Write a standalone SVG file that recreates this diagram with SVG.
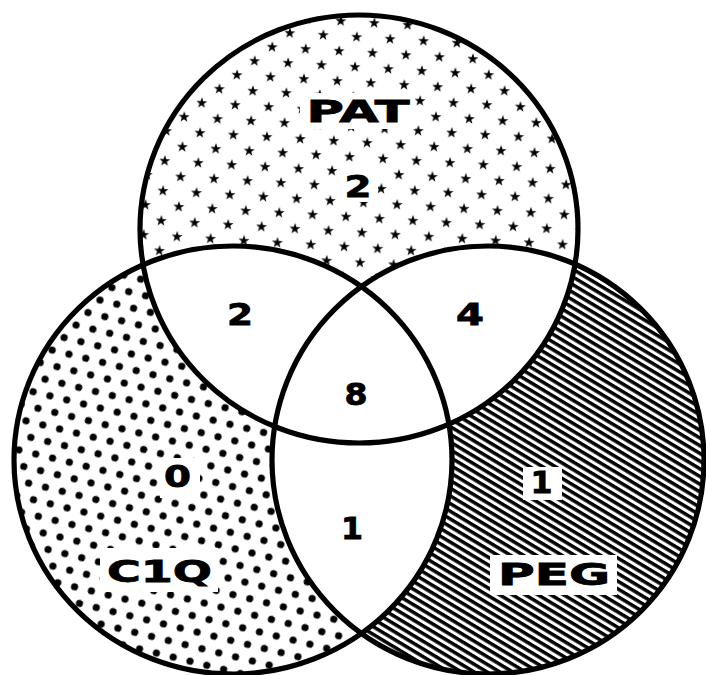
<svg xmlns="http://www.w3.org/2000/svg" width="706" height="675" viewBox="0 0 706 675">
<style>
.outline{fill:none;stroke:#000;stroke-width:5.2}
.lbl{font-family:"DejaVu Sans","Liberation Sans",sans-serif;font-weight:bold;font-size:30px;fill:#000;stroke:#000;stroke-width:0.8;text-anchor:middle}
.bg{fill:#fff}
</style>
<defs>
<polygon id="star" transform="scale(1.15)" points="0,-5 1.176,-1.618 4.755,-1.545 1.902,0.618 2.939,4.045 0,2 -2.939,4.045 -1.902,0.618 -4.755,-1.545 -1.176,-1.618"/>
<pattern id="stars" patternUnits="userSpaceOnUse" width="33.5" height="30" patternTransform="translate(288,63) rotate(3.4)">
<use href="#star" x="0" y="0"/><use href="#star" x="33.5" y="0"/><use href="#star" x="0" y="30"/><use href="#star" x="33.5" y="30"/><use href="#star" x="16.75" y="15"/>
</pattern>
<pattern id="dots" patternUnits="userSpaceOnUse" width="17.3" height="29.96" patternTransform="translate(100,300) rotate(13.7)">
<circle cx="0" cy="0" r="3.6"/><circle cx="17.3" cy="0" r="3.6"/><circle cx="8.65" cy="14.98" r="3.6"/><circle cx="0" cy="29.96" r="3.6"/><circle cx="17.3" cy="29.96" r="3.6"/>
</pattern>
<pattern id="hatch" patternUnits="userSpaceOnUse" width="20" height="6.6" patternTransform="rotate(31)">
<rect x="0" y="0" width="20" height="3.5"/>
</pattern>
<mask id="mPAT"><rect width="706" height="675" fill="#000"/><ellipse cx="359" cy="229" rx="219" ry="214" fill="#fff"/><ellipse cx="233" cy="460" rx="219" ry="214" fill="#000"/><ellipse cx="488" cy="460" rx="216" ry="214" fill="#000"/></mask>
<mask id="mC1Q"><rect width="706" height="675" fill="#000"/><ellipse cx="233" cy="460" rx="219" ry="214" fill="#fff"/><ellipse cx="359" cy="229" rx="219" ry="214" fill="#000"/><ellipse cx="488" cy="460" rx="216" ry="214" fill="#000"/></mask>
<mask id="mPEG"><rect width="706" height="675" fill="#000"/><ellipse cx="488" cy="460" rx="216" ry="214" fill="#fff"/><ellipse cx="359" cy="229" rx="219" ry="214" fill="#000"/><ellipse cx="233" cy="460" rx="219" ry="214" fill="#000"/></mask>
</defs>
<rect width="706" height="675" fill="#fff"/>
<g id="PAT">
<rect width="706" height="675" fill="url(#stars)" mask="url(#mPAT)"/>
<rect class="bg" x="300" y="93" width="115" height="36"/>
<rect class="bg" x="338" y="165" width="40" height="37"/>
<ellipse class="outline" cx="359" cy="229" rx="219" ry="214"/>
<text class="lbl" x="358" y="122" textLength="103" lengthAdjust="spacingAndGlyphs">PAT</text>
<text class="lbl" x="358" y="197" textLength="27" lengthAdjust="spacingAndGlyphs">2</text>
</g>
<g id="C1Q">
<rect width="706" height="675" fill="url(#dots)" mask="url(#mC1Q)"/>
<rect class="bg" x="160" y="458" width="40" height="40"/>
<rect class="bg" x="100" y="548" width="118" height="44"/>
<ellipse class="outline" cx="233" cy="460" rx="219" ry="214"/>
<text class="lbl" x="177.5" y="487" textLength="27" lengthAdjust="spacingAndGlyphs">0</text>
<text class="lbl" x="159.5" y="582" textLength="105" lengthAdjust="spacingAndGlyphs">C1Q</text>
</g>
<g id="PEG">
<rect width="706" height="675" fill="url(#hatch)" mask="url(#mPEG)"/>
<rect class="bg" x="523" y="467" width="39" height="33"/>
<rect class="bg" x="490" y="555" width="127" height="40"/>
<ellipse class="outline" cx="488" cy="460" rx="216" ry="214"/>
<text class="lbl" x="541.5" y="493" textLength="22" lengthAdjust="spacingAndGlyphs">1</text>
<text class="lbl" x="554" y="585" textLength="112" lengthAdjust="spacingAndGlyphs">PEG</text>
</g>
<g id="overlaps">
<text class="lbl" x="240" y="325" textLength="26" lengthAdjust="spacingAndGlyphs">2</text>
<text class="lbl" x="470" y="325" textLength="28" lengthAdjust="spacingAndGlyphs">4</text>
<text class="lbl" x="356" y="405" textLength="23" lengthAdjust="spacingAndGlyphs">8</text>
<text class="lbl" x="352" y="539" textLength="22" lengthAdjust="spacingAndGlyphs">1</text>
</g>
</svg>
